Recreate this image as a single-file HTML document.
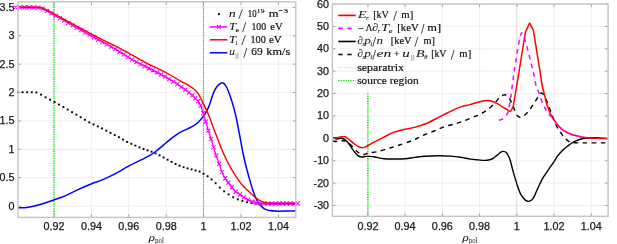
<!DOCTYPE html>
<html><head><meta charset="utf-8"><style>
html,body{margin:0;padding:0;background:#fff;}
body{width:617px;height:244px;overflow:hidden;}
svg{display:block;will-change:transform;}
.s{font-family:"Liberation Sans",sans-serif;font-size:10px;fill:#1a1a1a;stroke:#1a1a1a;stroke-width:0.25px;}
.m{font-family:"Liberation Serif",serif;font-size:10.8px;fill:#111;stroke:#111;stroke-width:0.2px;}
</style></head><body>
<svg width="617" height="244" viewBox="0 0 617 244">
<rect width="617" height="244" fill="#fff"/>
<line x1="54" y1="1.8" x2="54" y2="217.4" stroke="#ebebeb" stroke-width="0.8"/>
<line x1="91.4" y1="1.8" x2="91.4" y2="217.4" stroke="#ebebeb" stroke-width="0.8"/>
<line x1="128.8" y1="1.8" x2="128.8" y2="217.4" stroke="#ebebeb" stroke-width="0.8"/>
<line x1="166.2" y1="1.8" x2="166.2" y2="217.4" stroke="#ebebeb" stroke-width="0.8"/>
<line x1="203.6" y1="1.8" x2="203.6" y2="217.4" stroke="#ebebeb" stroke-width="0.8"/>
<line x1="241" y1="1.8" x2="241" y2="217.4" stroke="#ebebeb" stroke-width="0.8"/>
<line x1="278.4" y1="1.8" x2="278.4" y2="217.4" stroke="#ebebeb" stroke-width="0.8"/>
<line x1="18" y1="206.1" x2="295.8" y2="206.1" stroke="#ebebeb" stroke-width="0.8"/>
<line x1="18" y1="177.7" x2="295.8" y2="177.7" stroke="#ebebeb" stroke-width="0.8"/>
<line x1="18" y1="149.31" x2="295.8" y2="149.31" stroke="#ebebeb" stroke-width="0.8"/>
<line x1="18" y1="120.91" x2="295.8" y2="120.91" stroke="#ebebeb" stroke-width="0.8"/>
<line x1="18" y1="92.52" x2="295.8" y2="92.52" stroke="#ebebeb" stroke-width="0.8"/>
<line x1="18" y1="64.12" x2="295.8" y2="64.12" stroke="#ebebeb" stroke-width="0.8"/>
<line x1="18" y1="35.73" x2="295.8" y2="35.73" stroke="#ebebeb" stroke-width="0.8"/>
<line x1="18" y1="7.34" x2="295.8" y2="7.34" stroke="#ebebeb" stroke-width="0.8"/>
<line x1="54" y1="1.8" x2="54" y2="217.4" stroke="#00e400" stroke-width="1.4" stroke-dasharray="1.3,1.1"/>
<line x1="203.4" y1="1.8" x2="203.4" y2="217.4" stroke="#444" stroke-width="0.9" stroke-dasharray="0.9,1.1"/>
<rect x="17.05" y="91.35" width="1.9" height="1.9" fill="#000"/>
<rect x="21.65" y="91.33" width="1.9" height="1.9" fill="#000"/>
<rect x="26.25" y="91.33" width="1.9" height="1.9" fill="#000"/>
<rect x="30.85" y="91.36" width="1.9" height="1.9" fill="#000"/>
<rect x="35.45" y="91.52" width="1.9" height="1.9" fill="#000"/>
<rect x="40.05" y="93.65" width="1.9" height="1.9" fill="#000"/>
<rect x="44.64" y="96.33" width="1.9" height="1.9" fill="#000"/>
<rect x="49.17" y="98.68" width="1.9" height="1.9" fill="#000"/>
<rect x="53.64" y="101.14" width="1.9" height="1.9" fill="#000"/>
<rect x="58.06" y="103.6" width="1.9" height="1.9" fill="#000"/>
<rect x="62.42" y="106.06" width="1.9" height="1.9" fill="#000"/>
<rect x="66.76" y="108.63" width="1.9" height="1.9" fill="#000"/>
<rect x="71.09" y="111.21" width="1.9" height="1.9" fill="#000"/>
<rect x="75.41" y="113.72" width="1.9" height="1.9" fill="#000"/>
<rect x="79.72" y="116.23" width="1.9" height="1.9" fill="#000"/>
<rect x="84.02" y="118.81" width="1.9" height="1.9" fill="#000"/>
<rect x="88.31" y="121.44" width="1.9" height="1.9" fill="#000"/>
<rect x="92.59" y="123.46" width="1.9" height="1.9" fill="#000"/>
<rect x="96.85" y="125.43" width="1.9" height="1.9" fill="#000"/>
<rect x="101.11" y="127.48" width="1.9" height="1.9" fill="#000"/>
<rect x="105.35" y="129.72" width="1.9" height="1.9" fill="#000"/>
<rect x="109.57" y="131.96" width="1.9" height="1.9" fill="#000"/>
<rect x="113.76" y="134.09" width="1.9" height="1.9" fill="#000"/>
<rect x="117.94" y="136.24" width="1.9" height="1.9" fill="#000"/>
<rect x="122.09" y="138.64" width="1.9" height="1.9" fill="#000"/>
<rect x="126.23" y="140.94" width="1.9" height="1.9" fill="#000"/>
<rect x="130.34" y="142.85" width="1.9" height="1.9" fill="#000"/>
<rect x="134.44" y="144.61" width="1.9" height="1.9" fill="#000"/>
<rect x="138.51" y="146.42" width="1.9" height="1.9" fill="#000"/>
<rect x="142.56" y="148.1" width="1.9" height="1.9" fill="#000"/>
<rect x="146.6" y="149.44" width="1.9" height="1.9" fill="#000"/>
<rect x="150.61" y="150.7" width="1.9" height="1.9" fill="#000"/>
<rect x="154.61" y="152.4" width="1.9" height="1.9" fill="#000"/>
<rect x="158.61" y="154.42" width="1.9" height="1.9" fill="#000"/>
<rect x="162.61" y="156.54" width="1.9" height="1.9" fill="#000"/>
<rect x="166.61" y="158.73" width="1.9" height="1.9" fill="#000"/>
<rect x="170.61" y="160.92" width="1.9" height="1.9" fill="#000"/>
<rect x="174.61" y="163.06" width="1.9" height="1.9" fill="#000"/>
<rect x="178.61" y="164.8" width="1.9" height="1.9" fill="#000"/>
<rect x="182.61" y="166.22" width="1.9" height="1.9" fill="#000"/>
<rect x="186.61" y="167.41" width="1.9" height="1.9" fill="#000"/>
<rect x="190.61" y="168.42" width="1.9" height="1.9" fill="#000"/>
<rect x="194.61" y="169.48" width="1.9" height="1.9" fill="#000"/>
<rect x="198.61" y="170.59" width="1.9" height="1.9" fill="#000"/>
<rect x="202.61" y="172.78" width="1.9" height="1.9" fill="#000"/>
<rect x="206.61" y="175.31" width="1.9" height="1.9" fill="#000"/>
<rect x="210.61" y="178.46" width="1.9" height="1.9" fill="#000"/>
<rect x="214.66" y="182.26" width="1.9" height="1.9" fill="#000"/>
<rect x="218.85" y="186.64" width="1.9" height="1.9" fill="#000"/>
<rect x="223.17" y="190.39" width="1.9" height="1.9" fill="#000"/>
<rect x="227.64" y="193.42" width="1.9" height="1.9" fill="#000"/>
<rect x="232.24" y="196.28" width="1.9" height="1.9" fill="#000"/>
<rect x="236.84" y="198.43" width="1.9" height="1.9" fill="#000"/>
<rect x="241.44" y="199.96" width="1.9" height="1.9" fill="#000"/>
<rect x="246.04" y="201.18" width="1.9" height="1.9" fill="#000"/>
<rect x="250.64" y="202.1" width="1.9" height="1.9" fill="#000"/>
<rect x="255.24" y="202.63" width="1.9" height="1.9" fill="#000"/>
<rect x="259.84" y="202.9" width="1.9" height="1.9" fill="#000"/>
<rect x="264.44" y="203.08" width="1.9" height="1.9" fill="#000"/>
<rect x="269.04" y="203.15" width="1.9" height="1.9" fill="#000"/>
<rect x="273.64" y="203.18" width="1.9" height="1.9" fill="#000"/>
<rect x="278.24" y="203.2" width="1.9" height="1.9" fill="#000"/>
<rect x="282.84" y="203.21" width="1.9" height="1.9" fill="#000"/>
<rect x="287.44" y="203.23" width="1.9" height="1.9" fill="#000"/>
<rect x="292.04" y="203.24" width="1.9" height="1.9" fill="#000"/>
<path d="M18.2,207.7 C18.83,207.72 20.6,207.83 22,207.8 C23.4,207.77 25.1,207.67 26.6,207.5 C28.1,207.33 29.53,207.08 31,206.8 C32.47,206.52 33.18,206.4 35.4,205.8 C37.62,205.2 41.25,204.17 44.3,203.2 C47.35,202.23 50.33,201.18 53.7,200 C57.07,198.82 60.45,197.83 64.5,196.1 C68.55,194.37 73.48,191.67 78,189.6 C82.52,187.53 87.47,185.37 91.6,183.7 C95.73,182.03 98.9,181.23 102.8,179.6 C106.7,177.97 110.57,176.23 115,173.9 C119.43,171.57 124.95,167.98 129.4,165.6 C133.85,163.22 138.22,161.33 141.7,159.6 C145.18,157.87 147.83,156.67 150.3,155.2 C152.77,153.73 154.23,152.57 156.5,150.8 C158.77,149.03 161.82,146.35 163.9,144.6 C165.98,142.85 166.65,142.13 169,140.3 C171.35,138.47 175,135.47 178,133.6 C181,131.73 184.37,130.43 187,129.1 C189.63,127.77 191.88,126.78 193.8,125.6 C195.72,124.42 196.83,123.65 198.5,122 C200.17,120.35 202.13,118.13 203.8,115.7 C205.47,113.27 207.27,110.08 208.5,107.4 C209.73,104.72 210.33,102.1 211.2,99.6 C212.07,97.1 212.67,94.65 213.7,92.4 C214.73,90.15 216.1,87.67 217.4,86.1 C218.7,84.53 220.4,83.42 221.5,83 C222.6,82.58 223.17,82.93 224,83.6 C224.83,84.27 225.63,85.37 226.5,87 C227.37,88.63 228.27,90.9 229.2,93.4 C230.13,95.9 231.2,99.08 232.1,102 C233,104.92 233.78,107.65 234.6,110.9 C235.42,114.15 236.13,117.32 237,121.5 C237.87,125.68 238.73,130.42 239.8,136 C240.87,141.58 242.2,149.33 243.4,155 C244.6,160.67 245.88,165.65 247,170 C248.12,174.35 249.12,177.72 250.1,181.1 C251.08,184.48 251.97,187.53 252.9,190.3 C253.83,193.07 254.77,195.58 255.7,197.7 C256.63,199.82 257.12,201.18 258.5,203 C259.88,204.82 262.17,207.35 264,208.6 C265.83,209.85 267.5,210.08 269.5,210.5 C271.5,210.92 273.25,211 276,211.1 C278.75,211.2 282.67,211.13 286,211.1 C289.33,211.07 294.33,210.93 296,210.9" fill="none" stroke="#0000ff" stroke-width="1.5" stroke-linejoin="round"/>
<path d="M18,7.3 C20,7.3 26.33,7.22 30,7.3 C33.67,7.38 37.33,7.3 40,7.8 C42.67,8.3 43.75,9.18 46,10.3 C48.25,11.42 48.33,11.57 53.5,14.5 C58.67,17.43 70.08,24 77,27.9 C83.92,31.8 88.67,34.38 95,37.9 C101.33,41.42 108.25,45.07 115,49 C121.75,52.93 129.67,58.2 135.5,61.5 C141.33,64.8 145.83,66.68 150,68.8 C154.17,70.92 157.3,72.5 160.5,74.2 C163.7,75.9 165.28,76.6 169.2,79 C173.12,81.4 180.53,86.2 184,88.6 C187.47,91 187.9,91.57 190,93.4 C192.1,95.23 194.83,97.57 196.6,99.6 C198.37,101.63 199.23,102.45 200.6,105.6 C201.97,108.75 203.48,114.27 204.8,118.5 C206.12,122.73 207.38,127.33 208.5,131 C209.62,134.67 210.45,137.15 211.5,140.5 C212.55,143.85 213.63,147.48 214.8,151.1 C215.97,154.72 217.05,158.13 218.5,162.2 C219.95,166.27 221.62,171.78 223.5,175.5 C225.38,179.22 227.88,181.92 229.8,184.5 C231.72,187.08 233.3,189.32 235,191 C236.7,192.68 237.93,193.18 240,194.6 C242.07,196.02 244.78,198.17 247.4,199.5 C250.02,200.83 252.93,201.93 255.7,202.6 C258.47,203.27 260.78,203.35 264,203.5 C267.22,203.65 269.67,203.5 275,203.5 C280.33,203.5 292.5,203.5 296,203.5" fill="none" stroke="#ff00ff" stroke-width="1.3" stroke-linejoin="round"/>
<path d="M13.35,5.25L17.45,9.35M13.35,9.35L17.45,5.25M17.93,5.24L22.03,9.34M17.93,9.34L22.03,5.24M22.5,5.21L26.6,9.31M22.5,9.31L26.6,5.21M27.05,5.23L31.15,9.33M27.05,9.33L31.15,5.23M31.59,5.31L35.69,9.41M31.59,9.41L35.69,5.31M36.11,5.5L40.21,9.6M36.11,9.6L40.21,5.5M40.61,6.55L44.71,10.65M40.61,10.65L44.71,6.55M45.06,8.82L49.16,12.92M45.06,12.92L49.16,8.82M49.42,11.29L53.52,15.39M49.42,15.39L53.52,11.29M53.69,13.73L57.79,17.83M53.69,17.83L57.79,13.73M57.89,16.13L61.99,20.23M57.89,20.23L61.99,16.13M62.1,18.53L66.2,22.63M62.1,22.63L66.2,18.53M66.32,20.95L70.42,25.05M66.32,25.05L70.42,20.95M70.55,23.36L74.65,27.46M70.55,27.46L74.65,23.36M74.79,25.76L78.89,29.86M74.79,29.86L78.89,25.76M79.04,28.14L83.14,32.24M79.04,32.24L83.14,28.14M83.3,30.51L87.4,34.61M83.3,34.61L87.4,30.51M87.56,32.87L91.66,36.97M87.56,36.97L91.66,32.87M91.84,35.24L95.94,39.34M91.84,39.34L95.94,35.24M96.13,37.6L100.23,41.7M96.13,41.7L100.23,37.6M100.42,39.95L104.52,44.05M100.42,44.05L104.52,39.95M104.72,42.3L108.82,46.4M104.72,46.4L108.82,42.3M108.99,44.68L113.09,48.78M108.99,48.78L113.09,44.68M113.25,47.13L117.35,51.23M113.25,51.23L117.35,47.13M117.49,49.68L121.59,53.78M117.49,53.78L121.59,49.68M121.72,52.3L125.82,56.4M121.72,56.4L125.82,52.3M125.94,54.93L130.04,59.03M125.94,59.03L130.04,54.93M130.13,57.5L134.23,61.6M130.13,61.6L134.23,57.5M134.32,59.93L138.42,64.03M134.32,64.03L138.42,59.93M138.48,62.14L142.58,66.24M138.48,66.24L142.58,62.14M142.63,64.17L146.73,68.27M142.63,68.27L146.73,64.17M146.77,66.16L150.87,70.26M146.77,70.26L150.87,66.16M150.89,68.24L154.99,72.34M150.89,72.34L154.99,68.24M155,70.34L159.1,74.44M155,74.44L159.1,70.34M159.09,72.49L163.19,76.59M159.09,76.59L163.19,72.49M163.17,74.63L167.27,78.73M163.17,78.73L167.27,74.63M167.23,77L171.33,81.1M167.23,81.1L171.33,77M171.27,79.54L175.37,83.64M171.27,83.64L175.37,79.54M175.31,82.13L179.41,86.23M175.31,86.23L179.41,82.13M179.32,84.77L183.42,88.87M179.32,88.87L183.42,84.77M183.32,87.52L187.42,91.62M183.32,91.62L187.42,87.52M186.99,90.5L191.09,94.6M186.99,94.6L191.09,90.5M190.28,93.39L194.38,97.49M190.28,97.49L194.38,93.39M193.25,96.16L197.35,100.26M193.25,100.26L197.35,96.16M195.92,99.13L200.02,103.23M195.92,103.23L200.02,99.13M198.52,103.48L202.62,107.58M198.52,107.58L202.62,103.48M201.12,111.07L205.22,115.17M201.12,115.17L205.22,111.07M203.72,119.65L207.82,123.75M203.72,123.75L207.82,119.65M206.32,128.52L210.42,132.62M206.32,132.62L210.42,128.52M208.92,136.77L213.02,140.87M208.92,140.87L213.02,136.77M211.52,145.15L215.62,149.25M211.52,149.25L215.62,145.15M214.2,153.53L218.3,157.63M214.2,157.63L218.3,153.53M217.01,161.76L221.11,165.86M217.01,165.86L221.11,161.76M219.96,170.08L224.06,174.18M219.96,174.18L224.06,170.08M223.06,176.22L227.16,180.32M223.06,180.32L227.16,176.22M226.32,180.6L230.42,184.7M226.32,184.7L230.42,180.6M229.86,185.29L233.96,189.39M229.86,189.39L233.96,185.29M233.75,189.69L237.85,193.79M233.75,193.79L237.85,189.69M237.85,192.48L241.95,196.58M237.85,196.58L241.95,192.48M241.95,195.38L246.05,199.48M241.95,199.48L246.05,195.38M246.05,197.8L250.15,201.9M246.05,201.9L250.15,197.8M250.15,199.51L254.25,203.61M250.15,203.61L254.25,199.51M254.25,200.69L258.35,204.79M254.25,204.79L258.35,200.69M258.31,201.25L262.41,205.35M258.31,205.35L262.41,201.25M262.24,201.46L266.34,205.56M262.24,205.56L266.34,201.46M266.06,201.51L270.16,205.61M266.06,205.61L270.16,201.51M269.76,201.47L273.86,205.57M269.76,205.57L273.86,201.47M273.46,201.45L277.56,205.55M273.46,205.55L277.56,201.45M277.16,201.45L281.26,205.55M277.16,205.55L281.26,201.45M280.86,201.45L284.96,205.55M280.86,205.55L284.96,201.45M284.56,201.45L288.66,205.55M284.56,205.55L288.66,201.45M288.26,201.45L292.36,205.55M288.26,205.55L292.36,201.45M291.96,201.45L296.06,205.55M291.96,205.55L296.06,201.45M295.66,201.45L299.76,205.55M295.66,205.55L299.76,201.45" fill="none" stroke="#ff00ff" stroke-width="1.05"/>
<path d="M18,7.3 C20,7.3 26.33,7.27 30,7.3 C33.67,7.33 37.33,7.12 40,7.5 C42.67,7.88 43.75,8.6 46,9.6 C48.25,10.6 48.33,10.7 53.5,13.5 C58.67,16.3 69,22.1 77,26.4 C85,30.7 94.33,35.63 101.5,39.3 C108.67,42.97 112.82,44.6 120,48.4 C127.18,52.2 138.03,58.6 144.6,62.1 C151.17,65.6 155.3,67.33 159.4,69.4 C163.5,71.47 165.6,72.52 169.2,74.5 C172.8,76.48 177.67,79.42 181,81.3 C184.33,83.18 186.9,84.4 189.2,85.8 C191.5,87.2 193.25,88.3 194.8,89.7 C196.35,91.1 197.27,92.28 198.5,94.2 C199.73,96.12 200.53,97.77 202.2,101.2 C203.87,104.63 206.53,110.08 208.5,114.8 C210.47,119.52 212.5,125.55 214,129.5 C215.5,133.45 216.4,135.67 217.5,138.5 C218.6,141.33 219.37,143.5 220.6,146.5 C221.83,149.5 223.47,153.4 224.9,156.5 C226.33,159.6 227.95,162.73 229.2,165.1 C230.45,167.47 231.43,169.07 232.4,170.7 C233.37,172.33 234.1,173.5 235,174.9 C235.9,176.3 236.87,177.73 237.8,179.1 C238.73,180.47 239.63,181.85 240.6,183.1 C241.57,184.35 242.43,185.38 243.6,186.6 C244.77,187.82 246.17,189.05 247.6,190.4 C249.03,191.75 250.75,193.38 252.2,194.7 C253.65,196.02 254.93,197.27 256.3,198.3 C257.67,199.33 259.03,200.22 260.4,200.9 C261.77,201.58 263.13,202.02 264.5,202.4 C265.87,202.78 267.02,203.03 268.6,203.2 C270.18,203.37 271.1,203.37 274,203.4 C276.9,203.43 282.33,203.4 286,203.4 C289.67,203.4 294.33,203.4 296,203.4" fill="none" stroke="#ff0000" stroke-width="1.4" stroke-linejoin="round"/>
<line x1="54" y1="217.4" x2="54" y2="214.4" stroke="#8a8a8a" stroke-width="0.8"/>
<line x1="54" y1="1.8" x2="54" y2="4.8" stroke="#8a8a8a" stroke-width="0.8"/>
<line x1="91.4" y1="217.4" x2="91.4" y2="214.4" stroke="#8a8a8a" stroke-width="0.8"/>
<line x1="91.4" y1="1.8" x2="91.4" y2="4.8" stroke="#8a8a8a" stroke-width="0.8"/>
<line x1="128.8" y1="217.4" x2="128.8" y2="214.4" stroke="#8a8a8a" stroke-width="0.8"/>
<line x1="128.8" y1="1.8" x2="128.8" y2="4.8" stroke="#8a8a8a" stroke-width="0.8"/>
<line x1="166.2" y1="217.4" x2="166.2" y2="214.4" stroke="#8a8a8a" stroke-width="0.8"/>
<line x1="166.2" y1="1.8" x2="166.2" y2="4.8" stroke="#8a8a8a" stroke-width="0.8"/>
<line x1="203.6" y1="217.4" x2="203.6" y2="214.4" stroke="#8a8a8a" stroke-width="0.8"/>
<line x1="203.6" y1="1.8" x2="203.6" y2="4.8" stroke="#8a8a8a" stroke-width="0.8"/>
<line x1="241" y1="217.4" x2="241" y2="214.4" stroke="#8a8a8a" stroke-width="0.8"/>
<line x1="241" y1="1.8" x2="241" y2="4.8" stroke="#8a8a8a" stroke-width="0.8"/>
<line x1="278.4" y1="217.4" x2="278.4" y2="214.4" stroke="#8a8a8a" stroke-width="0.8"/>
<line x1="278.4" y1="1.8" x2="278.4" y2="4.8" stroke="#8a8a8a" stroke-width="0.8"/>
<line x1="18" y1="206.1" x2="21" y2="206.1" stroke="#8a8a8a" stroke-width="0.8"/>
<line x1="295.8" y1="206.1" x2="292.8" y2="206.1" stroke="#8a8a8a" stroke-width="0.8"/>
<line x1="18" y1="177.7" x2="21" y2="177.7" stroke="#8a8a8a" stroke-width="0.8"/>
<line x1="295.8" y1="177.7" x2="292.8" y2="177.7" stroke="#8a8a8a" stroke-width="0.8"/>
<line x1="18" y1="149.31" x2="21" y2="149.31" stroke="#8a8a8a" stroke-width="0.8"/>
<line x1="295.8" y1="149.31" x2="292.8" y2="149.31" stroke="#8a8a8a" stroke-width="0.8"/>
<line x1="18" y1="120.91" x2="21" y2="120.91" stroke="#8a8a8a" stroke-width="0.8"/>
<line x1="295.8" y1="120.91" x2="292.8" y2="120.91" stroke="#8a8a8a" stroke-width="0.8"/>
<line x1="18" y1="92.52" x2="21" y2="92.52" stroke="#8a8a8a" stroke-width="0.8"/>
<line x1="295.8" y1="92.52" x2="292.8" y2="92.52" stroke="#8a8a8a" stroke-width="0.8"/>
<line x1="18" y1="64.12" x2="21" y2="64.12" stroke="#8a8a8a" stroke-width="0.8"/>
<line x1="295.8" y1="64.12" x2="292.8" y2="64.12" stroke="#8a8a8a" stroke-width="0.8"/>
<line x1="18" y1="35.73" x2="21" y2="35.73" stroke="#8a8a8a" stroke-width="0.8"/>
<line x1="295.8" y1="35.73" x2="292.8" y2="35.73" stroke="#8a8a8a" stroke-width="0.8"/>
<line x1="18" y1="7.34" x2="21" y2="7.34" stroke="#8a8a8a" stroke-width="0.8"/>
<line x1="295.8" y1="7.34" x2="292.8" y2="7.34" stroke="#8a8a8a" stroke-width="0.8"/>
<rect x="18" y="1.8" width="277.8" height="215.6" fill="none" stroke="#c4c4c4" stroke-width="1.4"/>
<line x1="367.9" y1="4.05" x2="367.9" y2="216.3" stroke="#ebebeb" stroke-width="0.8"/>
<line x1="405.14" y1="4.05" x2="405.14" y2="216.3" stroke="#ebebeb" stroke-width="0.8"/>
<line x1="442.38" y1="4.05" x2="442.38" y2="216.3" stroke="#ebebeb" stroke-width="0.8"/>
<line x1="479.62" y1="4.05" x2="479.62" y2="216.3" stroke="#ebebeb" stroke-width="0.8"/>
<line x1="516.86" y1="4.05" x2="516.86" y2="216.3" stroke="#ebebeb" stroke-width="0.8"/>
<line x1="554.1" y1="4.05" x2="554.1" y2="216.3" stroke="#ebebeb" stroke-width="0.8"/>
<line x1="591.34" y1="4.05" x2="591.34" y2="216.3" stroke="#ebebeb" stroke-width="0.8"/>
<line x1="332.4" y1="205.47" x2="608.1" y2="205.47" stroke="#ebebeb" stroke-width="0.8"/>
<line x1="332.4" y1="183.09" x2="608.1" y2="183.09" stroke="#ebebeb" stroke-width="0.8"/>
<line x1="332.4" y1="160.71" x2="608.1" y2="160.71" stroke="#ebebeb" stroke-width="0.8"/>
<line x1="332.4" y1="138.33" x2="608.1" y2="138.33" stroke="#ebebeb" stroke-width="0.8"/>
<line x1="332.4" y1="115.95" x2="608.1" y2="115.95" stroke="#ebebeb" stroke-width="0.8"/>
<line x1="332.4" y1="93.57" x2="608.1" y2="93.57" stroke="#ebebeb" stroke-width="0.8"/>
<line x1="332.4" y1="71.19" x2="608.1" y2="71.19" stroke="#ebebeb" stroke-width="0.8"/>
<line x1="332.4" y1="48.81" x2="608.1" y2="48.81" stroke="#ebebeb" stroke-width="0.8"/>
<line x1="332.4" y1="26.43" x2="608.1" y2="26.43" stroke="#ebebeb" stroke-width="0.8"/>
<line x1="332.4" y1="4.05" x2="608.1" y2="4.05" stroke="#ebebeb" stroke-width="0.8"/>
<line x1="516.7" y1="4.05" x2="516.7" y2="216.3" stroke="#bbb" stroke-width="0.8" stroke-dasharray="0.8,1.2"/>
<line x1="367.9" y1="93.3" x2="367.9" y2="216.3" stroke="#00e400" stroke-width="1.4" stroke-dasharray="1.3,1.1"/>
<path d="M332.4,137.7 C333.18,137.92 335.63,138.9 337.1,139 C338.57,139.1 339.83,138.17 341.2,138.3 C342.57,138.43 343.93,138.77 345.3,139.8 C346.67,140.83 348.03,142.7 349.4,144.5 C350.77,146.3 352.13,148.78 353.5,150.6 C354.87,152.42 356.23,154.33 357.6,155.4 C358.97,156.47 360.33,156.83 361.7,157 C363.07,157.17 364.42,156.5 365.8,156.4 C367.18,156.3 368.45,156.3 370,156.4 C371.55,156.5 373.23,156.67 375.1,157 C376.97,157.33 379.15,158.07 381.2,158.4 C383.25,158.73 385,158.9 387.4,159 C389.8,159.1 392.67,159.03 395.6,159 C398.53,158.97 401.8,159.07 405,158.8 C408.2,158.53 411.52,157.83 414.8,157.4 C418.08,156.97 420.87,156.48 424.7,156.2 C428.53,155.92 433.43,155.72 437.8,155.7 C442.17,155.68 447.08,155.85 450.9,156.1 C454.72,156.35 457.42,156.7 460.7,157.2 C463.98,157.7 467.65,158.65 470.6,159.1 C473.55,159.55 476.07,159.68 478.4,159.9 C480.73,160.12 482.75,160.42 484.6,160.4 C486.45,160.38 488.07,160.15 489.5,159.8 C490.93,159.45 491.97,159.03 493.2,158.3 C494.43,157.57 495.68,156.38 496.9,155.4 C498.12,154.42 499.45,153.07 500.5,152.4 C501.55,151.73 502.23,151.37 503.2,151.4 C504.17,151.43 505.38,151.73 506.3,152.6 C507.22,153.47 508.05,155.32 508.7,156.6 C509.35,157.88 509.43,157.72 510.2,160.3 C510.97,162.88 512.17,168.08 513.3,172.1 C514.43,176.12 515.77,180.72 517,184.4 C518.23,188.08 519.27,191.53 520.7,194.2 C522.13,196.87 524.15,199.23 525.6,200.4 C527.05,201.57 528.17,201.5 529.4,201.2 C530.63,200.9 531.58,200.78 533,198.6 C534.42,196.42 536.27,191.5 537.9,188.1 C539.53,184.7 540.95,181.42 542.8,178.2 C544.65,174.98 547.3,171.3 549,168.8 C550.7,166.3 551.62,165.27 553,163.2 C554.38,161.13 555.92,158.3 557.3,156.4 C558.68,154.5 559.93,153.23 561.3,151.8 C562.67,150.37 563.43,149.45 565.5,147.8 C567.57,146.15 570.97,143.4 573.7,141.9 C576.43,140.4 579.17,139.5 581.9,138.8 C584.63,138.1 587.42,137.85 590.1,137.7 C592.78,137.55 595,137.75 598,137.9 C601,138.05 606.42,138.48 608.1,138.6" fill="none" stroke="#000" stroke-width="1.4" stroke-linejoin="round"/>
<path d="M332.4,141.2 C333.37,141.25 336.55,141.57 338.2,141.5 C339.85,141.43 341.12,140.88 342.3,140.8 C343.48,140.72 344.27,140.67 345.3,141 C346.33,141.33 347.3,141.85 348.5,142.8 C349.7,143.75 350.8,145.03 352.5,146.7 C354.2,148.37 356.98,151.47 358.7,152.8 C360.42,154.13 361.1,154.68 362.8,154.7 C364.5,154.72 366.52,153.38 368.9,152.9 C371.28,152.42 374.02,152.5 377.1,151.8 C380.18,151.1 383.98,149.73 387.4,148.7 C390.82,147.67 393.5,146.95 397.6,145.6 C401.7,144.25 407.85,142.27 412,140.6 C416.15,138.93 418.83,137.2 422.5,135.6 C426.17,134 430.25,132.5 434,131 C437.75,129.5 441.2,127.87 445,126.6 C448.8,125.33 453.47,124.43 456.8,123.4 C460.13,122.37 462.27,121.45 465,120.4 C467.73,119.35 470.47,118.22 473.2,117.1 C475.93,115.98 478.67,115.22 481.4,113.7 C484.13,112.18 487.15,110.05 489.6,108 C492.05,105.95 494.33,103.3 496.1,101.4 C497.87,99.5 499.05,97.63 500.2,96.6 C501.35,95.57 502.03,95.47 503,95.2 C503.97,94.93 504.95,94.52 506,95 C507.05,95.48 508.22,96.48 509.3,98.1 C510.38,99.72 511.55,102.55 512.5,104.7 C513.45,106.85 514.17,109.15 515,111 C515.83,112.85 516.58,114.77 517.5,115.8 C518.42,116.83 519.33,117.3 520.5,117.2 C521.67,117.1 522.95,116.47 524.5,115.2 C526.05,113.93 528.1,111.77 529.8,109.6 C531.5,107.43 533.07,104.67 534.7,102.2 C536.33,99.73 538.45,96.33 539.6,94.8 C540.75,93.27 540.78,92.78 541.6,93 C542.42,93.22 543.4,94.15 544.5,96.1 C545.6,98.05 546.97,101.63 548.2,104.7 C549.43,107.77 550.67,111.28 551.9,114.5 C553.13,117.72 554.17,121.02 555.6,124 C557.03,126.98 558.87,129.97 560.5,132.4 C562.13,134.83 563.82,137 565.4,138.6 C566.98,140.2 568.48,141.3 570,142 C571.52,142.7 572.3,142.65 574.5,142.8 C576.7,142.95 577.6,142.88 583.2,142.9 C588.8,142.92 603.95,142.9 608.1,142.9" fill="none" stroke="#000" stroke-width="1.4" stroke-dasharray="4.6,4.4" stroke-linejoin="round"/>
<path d="M332.4,137.7 C333.37,137.68 336.22,137.8 338.2,137.6 C340.18,137.4 342.6,136.27 344.3,136.5 C346,136.73 346.72,137.75 348.4,139 C350.08,140.25 352.6,142.67 354.4,144 C356.2,145.33 357.88,146.38 359.2,147 C360.52,147.62 361.17,147.77 362.3,147.7 C363.43,147.63 364.22,147.45 366,146.6 C367.78,145.75 370.12,144.13 373,142.6 C375.88,141.07 379.88,139.1 383.3,137.4 C386.72,135.7 390.08,133.72 393.5,132.4 C396.92,131.08 400.47,130.3 403.8,129.5 C407.13,128.7 409.63,128.65 413.5,127.6 C417.37,126.55 422.5,125.07 427,123.2 C431.5,121.33 436.75,118.28 440.5,116.4 C444.25,114.52 446.5,113.37 449.5,111.9 C452.5,110.43 455.12,108.82 458.5,107.6 C461.88,106.38 466.72,105.47 469.8,104.6 C472.88,103.73 474.52,103.05 477,102.4 C479.48,101.75 482.33,100.95 484.7,100.7 C487.07,100.45 489.02,100.37 491.2,100.9 C493.38,101.43 495.62,102.72 497.8,103.9 C499.98,105.08 502.38,106.78 504.3,108 C506.22,109.22 508.47,110.67 509.3,111.2 L510.9,110.9 L513.2,106.5 L518.5,75 L525.4,32.2 L529.6,23.1 L533.3,29.8 L540.6,75 L540.6,75 C540.85,76.67 541.45,81.7 542.1,85 C542.75,88.3 543.68,91.52 544.5,94.8 C545.32,98.08 545.97,101.45 547,104.7 C548.03,107.95 549.67,111.98 550.7,114.3 C551.73,116.62 552.1,116.92 553.2,118.6 C554.3,120.28 555.58,122.43 557.3,124.4 C559.02,126.37 561.1,128.72 563.5,130.4 C565.9,132.08 568.63,133.38 571.7,134.5 C574.77,135.62 578.83,136.52 581.9,137.1 C584.97,137.68 587.08,137.78 590.1,138 C593.12,138.22 597,138.3 600,138.4 C603,138.5 606.75,138.57 608.1,138.6" fill="none" stroke="#ff0000" stroke-width="1.5" stroke-linejoin="round"/>
<path d="M499,120.2 C499.48,120.07 500.87,119.93 501.9,119.4 C502.93,118.87 504.18,118.23 505.2,117 C506.22,115.77 507.13,114.87 508,112 C508.87,109.13 510,101.83 510.4,99.8 L510.4,99.8 L514.3,70.3 L517.3,51.9 L519.8,37.1 L521.7,32.7 L524.7,38.4 L527.6,49.4 L530.8,61.7 L534,75 L535.9,85 L539.6,94.8 L539.6,94.8 C540.22,96.45 541.87,101.62 543.3,104.7 C544.73,107.78 546.55,110.95 548.2,113.3 C549.85,115.65 551.68,116.95 553.2,118.8 C554.72,120.65 555.58,122.47 557.3,124.4 C559.02,126.33 561.1,128.72 563.5,130.4 C565.9,132.08 568.63,133.38 571.7,134.5 C574.77,135.62 580.2,136.67 581.9,137.1" fill="none" stroke="#ff00ff" stroke-width="1.5" stroke-dasharray="4.6,4.4" stroke-linejoin="round"/>
<line x1="367.9" y1="216.3" x2="367.9" y2="213.3" stroke="#8a8a8a" stroke-width="0.8"/>
<line x1="367.9" y1="4.05" x2="367.9" y2="7.05" stroke="#8a8a8a" stroke-width="0.8"/>
<line x1="405.14" y1="216.3" x2="405.14" y2="213.3" stroke="#8a8a8a" stroke-width="0.8"/>
<line x1="405.14" y1="4.05" x2="405.14" y2="7.05" stroke="#8a8a8a" stroke-width="0.8"/>
<line x1="442.38" y1="216.3" x2="442.38" y2="213.3" stroke="#8a8a8a" stroke-width="0.8"/>
<line x1="442.38" y1="4.05" x2="442.38" y2="7.05" stroke="#8a8a8a" stroke-width="0.8"/>
<line x1="479.62" y1="216.3" x2="479.62" y2="213.3" stroke="#8a8a8a" stroke-width="0.8"/>
<line x1="479.62" y1="4.05" x2="479.62" y2="7.05" stroke="#8a8a8a" stroke-width="0.8"/>
<line x1="516.86" y1="216.3" x2="516.86" y2="213.3" stroke="#8a8a8a" stroke-width="0.8"/>
<line x1="516.86" y1="4.05" x2="516.86" y2="7.05" stroke="#8a8a8a" stroke-width="0.8"/>
<line x1="554.1" y1="216.3" x2="554.1" y2="213.3" stroke="#8a8a8a" stroke-width="0.8"/>
<line x1="554.1" y1="4.05" x2="554.1" y2="7.05" stroke="#8a8a8a" stroke-width="0.8"/>
<line x1="591.34" y1="216.3" x2="591.34" y2="213.3" stroke="#8a8a8a" stroke-width="0.8"/>
<line x1="591.34" y1="4.05" x2="591.34" y2="7.05" stroke="#8a8a8a" stroke-width="0.8"/>
<line x1="332.4" y1="205.47" x2="335.4" y2="205.47" stroke="#8a8a8a" stroke-width="0.8"/>
<line x1="608.1" y1="205.47" x2="605.1" y2="205.47" stroke="#8a8a8a" stroke-width="0.8"/>
<line x1="332.4" y1="183.09" x2="335.4" y2="183.09" stroke="#8a8a8a" stroke-width="0.8"/>
<line x1="608.1" y1="183.09" x2="605.1" y2="183.09" stroke="#8a8a8a" stroke-width="0.8"/>
<line x1="332.4" y1="160.71" x2="335.4" y2="160.71" stroke="#8a8a8a" stroke-width="0.8"/>
<line x1="608.1" y1="160.71" x2="605.1" y2="160.71" stroke="#8a8a8a" stroke-width="0.8"/>
<line x1="332.4" y1="138.33" x2="335.4" y2="138.33" stroke="#8a8a8a" stroke-width="0.8"/>
<line x1="608.1" y1="138.33" x2="605.1" y2="138.33" stroke="#8a8a8a" stroke-width="0.8"/>
<line x1="332.4" y1="115.95" x2="335.4" y2="115.95" stroke="#8a8a8a" stroke-width="0.8"/>
<line x1="608.1" y1="115.95" x2="605.1" y2="115.95" stroke="#8a8a8a" stroke-width="0.8"/>
<line x1="332.4" y1="93.57" x2="335.4" y2="93.57" stroke="#8a8a8a" stroke-width="0.8"/>
<line x1="608.1" y1="93.57" x2="605.1" y2="93.57" stroke="#8a8a8a" stroke-width="0.8"/>
<line x1="332.4" y1="71.19" x2="335.4" y2="71.19" stroke="#8a8a8a" stroke-width="0.8"/>
<line x1="608.1" y1="71.19" x2="605.1" y2="71.19" stroke="#8a8a8a" stroke-width="0.8"/>
<line x1="332.4" y1="48.81" x2="335.4" y2="48.81" stroke="#8a8a8a" stroke-width="0.8"/>
<line x1="608.1" y1="48.81" x2="605.1" y2="48.81" stroke="#8a8a8a" stroke-width="0.8"/>
<line x1="332.4" y1="26.43" x2="335.4" y2="26.43" stroke="#8a8a8a" stroke-width="0.8"/>
<line x1="608.1" y1="26.43" x2="605.1" y2="26.43" stroke="#8a8a8a" stroke-width="0.8"/>
<line x1="332.4" y1="4.05" x2="335.4" y2="4.05" stroke="#8a8a8a" stroke-width="0.8"/>
<line x1="608.1" y1="4.05" x2="605.1" y2="4.05" stroke="#8a8a8a" stroke-width="0.8"/>
<rect x="332.4" y="4.05" width="275.7" height="212.25" fill="none" stroke="#c4c4c4" stroke-width="1.4"/>
<rect x="218.0" y="13.2" width="1.9" height="1.9" fill="#000"/>
<line x1="209.9" y1="26.9" x2="227.3" y2="26.9" stroke="#ff00ff" stroke-width="1.5"/>
<path d="M216.9,25.0L220.7,28.8M216.9,28.8L220.7,25.0" stroke="#ff00ff" stroke-width="1.1"/>
<line x1="209.9" y1="39.8" x2="227.3" y2="39.8" stroke="#ff0000" stroke-width="1.5"/>
<line x1="209.9" y1="52.8" x2="227.3" y2="52.8" stroke="#0000ff" stroke-width="1.5"/>
<line x1="338.3" y1="15.4" x2="355.7" y2="15.4" stroke="#ff0000" stroke-width="1.7"/>
<line x1="338.3" y1="28.44" x2="352.2" y2="28.44" stroke="#ff00ff" stroke-width="1.7" stroke-dasharray="4.3,4.8"/>
<line x1="338.3" y1="41.48" x2="355.7" y2="41.48" stroke="#000" stroke-width="1.6"/>
<line x1="338.3" y1="54.52" x2="352.2" y2="54.52" stroke="#000" stroke-width="1.6" stroke-dasharray="4.3,4.8"/>
<line x1="338.3" y1="67.56" x2="355.7" y2="67.56" stroke="#bbb" stroke-width="0.8" stroke-dasharray="0.8,1.2"/>
<line x1="338.3" y1="80.6" x2="355.7" y2="80.6" stroke="#00e400" stroke-width="1.4" stroke-dasharray="1.3,1.1"/>
<text x="43.5" y="229.6" class="s" style="font-size:10.2px" textLength="21" lengthAdjust="spacingAndGlyphs">0.92</text>
<text x="357.4" y="229.6" class="s" style="font-size:10.2px" textLength="21" lengthAdjust="spacingAndGlyphs">0.92</text>
<text x="80.9" y="229.6" class="s" style="font-size:10.2px" textLength="21" lengthAdjust="spacingAndGlyphs">0.94</text>
<text x="394.64" y="229.6" class="s" style="font-size:10.2px" textLength="21" lengthAdjust="spacingAndGlyphs">0.94</text>
<text x="118.3" y="229.6" class="s" style="font-size:10.2px" textLength="21" lengthAdjust="spacingAndGlyphs">0.96</text>
<text x="431.88" y="229.6" class="s" style="font-size:10.2px" textLength="21" lengthAdjust="spacingAndGlyphs">0.96</text>
<text x="155.7" y="229.6" class="s" style="font-size:10.2px" textLength="21" lengthAdjust="spacingAndGlyphs">0.98</text>
<text x="469.12" y="229.6" class="s" style="font-size:10.2px" textLength="21" lengthAdjust="spacingAndGlyphs">0.98</text>
<text x="200.6" y="229.6" class="s" style="font-size:10.2px" textLength="6" lengthAdjust="spacingAndGlyphs">1</text>
<text x="513.86" y="229.6" class="s" style="font-size:10.2px" textLength="6" lengthAdjust="spacingAndGlyphs">1</text>
<text x="230.5" y="229.6" class="s" style="font-size:10.2px" textLength="21" lengthAdjust="spacingAndGlyphs">1.02</text>
<text x="543.6" y="229.6" class="s" style="font-size:10.2px" textLength="21" lengthAdjust="spacingAndGlyphs">1.02</text>
<text x="267.9" y="229.6" class="s" style="font-size:10.2px" textLength="21" lengthAdjust="spacingAndGlyphs">1.04</text>
<text x="580.84" y="229.6" class="s" style="font-size:10.2px" textLength="21" lengthAdjust="spacingAndGlyphs">1.04</text>
<text x="8.6" y="209.6" class="s" style="font-size:10.2px" textLength="6" lengthAdjust="spacingAndGlyphs">0</text>
<text x="-0.4" y="181.2" class="s" style="font-size:10.2px" textLength="15" lengthAdjust="spacingAndGlyphs">0.5</text>
<text x="8.6" y="152.81" class="s" style="font-size:10.2px" textLength="6" lengthAdjust="spacingAndGlyphs">1</text>
<text x="-0.4" y="124.41" class="s" style="font-size:10.2px" textLength="15" lengthAdjust="spacingAndGlyphs">1.5</text>
<text x="8.6" y="96.02" class="s" style="font-size:10.2px" textLength="6" lengthAdjust="spacingAndGlyphs">2</text>
<text x="-0.4" y="67.62" class="s" style="font-size:10.2px" textLength="15" lengthAdjust="spacingAndGlyphs">2.5</text>
<text x="8.6" y="39.23" class="s" style="font-size:10.2px" textLength="6" lengthAdjust="spacingAndGlyphs">3</text>
<text x="-0.4" y="10.84" class="s" style="font-size:10.2px" textLength="15" lengthAdjust="spacingAndGlyphs">3.5</text>
<text x="313.6" y="208.97" class="s" style="font-size:10.2px" textLength="15.4" lengthAdjust="spacingAndGlyphs">-30</text>
<text x="313.6" y="186.59" class="s" style="font-size:10.2px" textLength="15.4" lengthAdjust="spacingAndGlyphs">-20</text>
<text x="313.6" y="164.21" class="s" style="font-size:10.2px" textLength="15.4" lengthAdjust="spacingAndGlyphs">-10</text>
<text x="323" y="141.83" class="s" style="font-size:10.2px" textLength="6" lengthAdjust="spacingAndGlyphs">0</text>
<text x="317" y="119.45" class="s" style="font-size:10.2px" textLength="12" lengthAdjust="spacingAndGlyphs">10</text>
<text x="317" y="97.07" class="s" style="font-size:10.2px" textLength="12" lengthAdjust="spacingAndGlyphs">20</text>
<text x="317" y="74.69" class="s" style="font-size:10.2px" textLength="12" lengthAdjust="spacingAndGlyphs">30</text>
<text x="317" y="52.31" class="s" style="font-size:10.2px" textLength="12" lengthAdjust="spacingAndGlyphs">40</text>
<text x="317" y="29.93" class="s" style="font-size:10.2px" textLength="12" lengthAdjust="spacingAndGlyphs">50</text>
<text x="317" y="7.55" class="s" style="font-size:10.2px" textLength="12" lengthAdjust="spacingAndGlyphs">60</text>
<text x="148.8" y="241.3" class="m" style="font-size:10.5px;font-style:italic;stroke-width:0.05px" textLength="6.2" lengthAdjust="spacingAndGlyphs">&#961;</text>
<text x="155.1" y="243.3" class="m" style="font-size:7.5px;stroke-width:0.1px;fill:#555" textLength="8.8" lengthAdjust="spacingAndGlyphs">pol</text>
<text x="462.4" y="241.3" class="m" style="font-size:10.5px;font-style:italic;stroke-width:0.05px" textLength="6.2" lengthAdjust="spacingAndGlyphs">&#961;</text>
<text x="468.7" y="243.3" class="m" style="font-size:7.5px;stroke-width:0.1px;fill:#555" textLength="8.8" lengthAdjust="spacingAndGlyphs">pol</text>
<text x="228.65" y="16.6" class="m" style="font-style:italic;stroke-width:0.05px" textLength="7" lengthAdjust="spacingAndGlyphs">n</text>
<line x1="238.8" y1="18.9" x2="242.4" y2="9.2" stroke="#1a1a1a" stroke-width="0.8"/>
<text x="247.75" y="16.6" class="m" textLength="8.8" lengthAdjust="spacingAndGlyphs">10</text>
<text x="256.85" y="12.6" class="m" style="font-size:7px;stroke-width:0.1px" textLength="7.7" lengthAdjust="spacingAndGlyphs">19</text>
<text x="268.85" y="16.6" class="m" textLength="9.8" lengthAdjust="spacingAndGlyphs">m</text>
<line x1="278.8" y1="10.5" x2="282.6" y2="10.5" stroke="#222" stroke-width="0.85"/>
<text x="283.25" y="12.6" class="m" style="font-size:7px;stroke-width:0.1px" textLength="4.9" lengthAdjust="spacingAndGlyphs">3</text>
<text x="229.05" y="29.7" class="m" style="font-style:italic;stroke-width:0.05px" textLength="7" lengthAdjust="spacingAndGlyphs">T</text>
<text x="235.55" y="31.6" class="m" style="font-size:7px;stroke-width:0.1px" textLength="3.4" lengthAdjust="spacingAndGlyphs">e</text>
<line x1="242.7" y1="32" x2="245.7" y2="22.3" stroke="#1a1a1a" stroke-width="0.8"/>
<text x="251.45" y="29.7" class="m" textLength="14.8" lengthAdjust="spacingAndGlyphs">100</text>
<text x="270.35" y="29.7" class="m" textLength="12.4" lengthAdjust="spacingAndGlyphs">eV</text>
<text x="229.05" y="42.7" class="m" style="font-style:italic;stroke-width:0.05px" textLength="7" lengthAdjust="spacingAndGlyphs">T</text>
<text x="235.55" y="44.6" class="m" style="font-size:7px;stroke-width:0.1px" textLength="1.7" lengthAdjust="spacingAndGlyphs">i</text>
<line x1="241.8" y1="45" x2="245.3" y2="35.3" stroke="#1a1a1a" stroke-width="0.8"/>
<text x="250.45" y="42.7" class="m" textLength="15.3" lengthAdjust="spacingAndGlyphs">100</text>
<text x="268.95" y="42.7" class="m" textLength="12.8" lengthAdjust="spacingAndGlyphs">eV</text>
<text x="229.15" y="55.4" class="m" style="font-style:italic;stroke-width:0.05px" textLength="5.7" lengthAdjust="spacingAndGlyphs">u</text>
<path d="M236,52.8V58.8M238,52.8V58.8" stroke="#8a8a8a" stroke-width="0.75"/>
<line x1="243.8" y1="57.7" x2="246.9" y2="48" stroke="#1a1a1a" stroke-width="0.8"/>
<text x="251.25" y="55.4" class="m" textLength="11.3" lengthAdjust="spacingAndGlyphs">69</text>
<text x="266.35" y="55.4" class="m" textLength="23.8" lengthAdjust="spacingAndGlyphs">km/s</text>
<text x="358.05" y="18.3" class="m" style="font-style:italic;stroke-width:0.05px" textLength="8.5" lengthAdjust="spacingAndGlyphs">E</text>
<text x="366.05" y="20.2" class="m" style="font-size:7px;stroke-width:0.1px;font-style:italic" textLength="2.9" lengthAdjust="spacingAndGlyphs">r</text>
<text x="373.15" y="18.3" class="m" textLength="15.8" lengthAdjust="spacingAndGlyphs">[kV</text>
<line x1="393.6" y1="20.6" x2="396.6" y2="10.9" stroke="#1a1a1a" stroke-width="0.8"/>
<text x="401.35" y="18.3" class="m" textLength="11.9" lengthAdjust="spacingAndGlyphs">m]</text>
<line x1="358.4" y1="28.45" x2="363.3" y2="28.45" stroke="#222" stroke-width="0.85"/>
<text x="365.85" y="31.35" class="m" textLength="6.5" lengthAdjust="spacingAndGlyphs">&#923;</text>
<text x="372.15" y="31.35" class="m" style="font-style:italic;stroke-width:0.05px" textLength="6.1" lengthAdjust="spacingAndGlyphs">&#8706;</text>
<text x="377.55" y="33.25" class="m" style="font-size:7px;stroke-width:0.1px;font-style:italic" textLength="2.6" lengthAdjust="spacingAndGlyphs">r</text>
<text x="380.95" y="31.35" class="m" style="font-style:italic;stroke-width:0.05px" textLength="8" lengthAdjust="spacingAndGlyphs">T</text>
<text x="388.65" y="33.25" class="m" style="font-size:7px;stroke-width:0.1px;font-style:italic" textLength="3.7" lengthAdjust="spacingAndGlyphs">e</text>
<text x="397.25" y="31.35" class="m" textLength="21.4" lengthAdjust="spacingAndGlyphs">[keV</text>
<line x1="421.5" y1="33.65" x2="424" y2="23.95" stroke="#1a1a1a" stroke-width="0.8"/>
<text x="427.25" y="31.35" class="m" textLength="13.8" lengthAdjust="spacingAndGlyphs">m]</text>
<text x="357.55" y="44.4" class="m" style="font-style:italic;stroke-width:0.05px" textLength="5.6" lengthAdjust="spacingAndGlyphs">&#8706;</text>
<text x="362.55" y="46.3" class="m" style="font-size:7px;stroke-width:0.1px;font-style:italic" textLength="2.1" lengthAdjust="spacingAndGlyphs">r</text>
<text x="364.35" y="44.4" class="m" style="font-style:italic;stroke-width:0.05px" textLength="6.6" lengthAdjust="spacingAndGlyphs">p</text>
<text x="370.35" y="46.3" class="m" style="font-size:7px;stroke-width:0.1px;font-style:italic" textLength="2" lengthAdjust="spacingAndGlyphs">i</text>
<line x1="372.7" y1="46.7" x2="375.7" y2="37" stroke="#1a1a1a" stroke-width="0.8"/>
<text x="376.55" y="44.4" class="m" style="font-style:italic;stroke-width:0.05px" textLength="6.5" lengthAdjust="spacingAndGlyphs">n</text>
<text x="390.75" y="44.4" class="m" textLength="20.9" lengthAdjust="spacingAndGlyphs">[keV</text>
<line x1="414.9" y1="46.7" x2="417.9" y2="37" stroke="#1a1a1a" stroke-width="0.8"/>
<text x="423.55" y="44.4" class="m" textLength="11.4" lengthAdjust="spacingAndGlyphs">m]</text>
<text x="357.55" y="57.45" class="m" style="font-style:italic;stroke-width:0.05px" textLength="5.6" lengthAdjust="spacingAndGlyphs">&#8706;</text>
<text x="362.55" y="59.35" class="m" style="font-size:7px;stroke-width:0.1px;font-style:italic" textLength="2.1" lengthAdjust="spacingAndGlyphs">r</text>
<text x="364.35" y="57.45" class="m" style="font-style:italic;stroke-width:0.05px" textLength="6.6" lengthAdjust="spacingAndGlyphs">p</text>
<text x="370.35" y="59.35" class="m" style="font-size:7px;stroke-width:0.1px;font-style:italic" textLength="2" lengthAdjust="spacingAndGlyphs">i</text>
<line x1="372.7" y1="59.75" x2="375.7" y2="50.05" stroke="#1a1a1a" stroke-width="0.8"/>
<text x="376.55" y="57.45" class="m" style="font-style:italic;stroke-width:0.05px" textLength="14.8" lengthAdjust="spacingAndGlyphs">en</text>
<text x="394.05" y="57.45" class="m" textLength="5.6" lengthAdjust="spacingAndGlyphs">+</text>
<text x="402.35" y="57.45" class="m" style="font-style:italic;stroke-width:0.05px" textLength="7.5" lengthAdjust="spacingAndGlyphs">u</text>
<path d="M411.7,54.85V60.85M413.7,54.85V60.85" stroke="#8a8a8a" stroke-width="0.75"/>
<text x="416.05" y="57.45" class="m" style="font-style:italic;stroke-width:0.05px" textLength="8.5" lengthAdjust="spacingAndGlyphs">B</text>
<text x="424.35" y="59.35" class="m" style="font-size:7px;stroke-width:0.1px;font-style:italic" textLength="3.1" lengthAdjust="spacingAndGlyphs">&#952;</text>
<text x="431.15" y="57.45" class="m" textLength="15.3" lengthAdjust="spacingAndGlyphs">[kV</text>
<line x1="451.1" y1="59.75" x2="454.1" y2="50.05" stroke="#1a1a1a" stroke-width="0.8"/>
<text x="459.35" y="57.45" class="m" textLength="11.9" lengthAdjust="spacingAndGlyphs">m]</text>
<text x="357.15" y="70.5" class="m" textLength="46.8" lengthAdjust="spacingAndGlyphs">separatrix</text>
<text x="357.15" y="83.55" class="m" textLength="61.6" lengthAdjust="spacingAndGlyphs">source region</text>
</svg>
</body></html>
